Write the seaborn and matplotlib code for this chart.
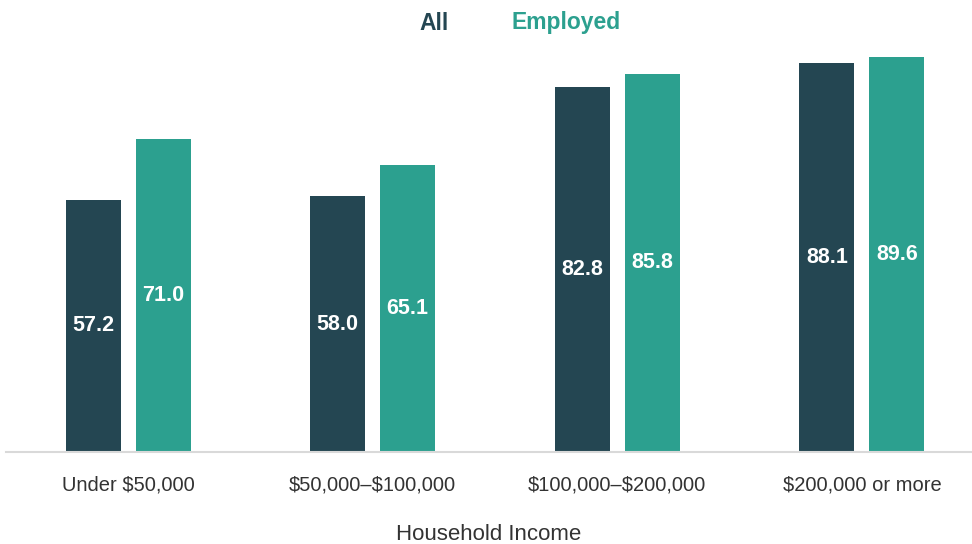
import numpy as np
import pandas as pd
import seaborn as sns
import matplotlib.pyplot as plt

sns.set_theme(style="white")
plt.rcParams['font.family'] = ['Liberation Sans', 'DejaVu Sans']

# Data
categories = ["Under \\$50,000", "\\$50,000\u2013\\$100,000",
              "\\$100,000\u2013\\$200,000", "\\$200,000 or more"]
all_vals = [57.2, 58.0, 82.8, 88.1]
employed_vals = [71.0, 65.1, 85.8, 89.6]
series = ["All", "Employed"]
colors = ["#244652", "#2ca08f"]

df = pd.DataFrame({
    "income": categories * 2,
    "value": all_vals + employed_vals,
    "group": ["All"] * 4 + ["Employed"] * 4,
})

fig = plt.figure(figsize=(9.72, 5.44), dpi=100)
ax = fig.add_axes([0.006, 0.169, 0.994, 0.746])

sns.barplot(data=df, x="income", y="value", hue="group", order=categories,
            hue_order=series, palette=colors, width=0.572, gap=0.213,
            saturation=1, linewidth=0, legend=False, ax=ax)

# value labels, centred in each bar
for cont in ax.containers:
    for bar in cont:
        h = bar.get_height()
        ax.text(bar.get_x() + bar.get_width() / 2, h / 2, f"{h:.1f}",
                ha="center", va="center", color="white",
                fontsize=15.5, fontweight="bold")

ax.set_xlim(-0.5, 3.45)
ax.set_ylim(0, 92)
ax.set_yticks([])
for s in ["top", "right", "left"]:
    ax.spines[s].set_visible(False)
ax.spines["bottom"].set_color("#d9d9d9")
ax.spines["bottom"].set_linewidth(1.5)
ax.tick_params(axis="x", length=0, pad=17, labelsize=14.5, labelcolor="#333333")
ax.set_xlabel("Household Income", fontsize=16, color="#333333", labelpad=21)
ax.set_ylabel("")

# legend as coloured text
fig.text(434 / 972, 1 - 23 / 544, "All", color=colors[0], fontsize=16.5,
         fontweight="bold", ha="center", va="center")
fig.text(566 / 972, 1 - 23 / 544, "Employed", color=colors[1], fontsize=16.5,
         fontweight="bold", ha="center", va="center")

fig.savefig("out.png", dpi=100)
